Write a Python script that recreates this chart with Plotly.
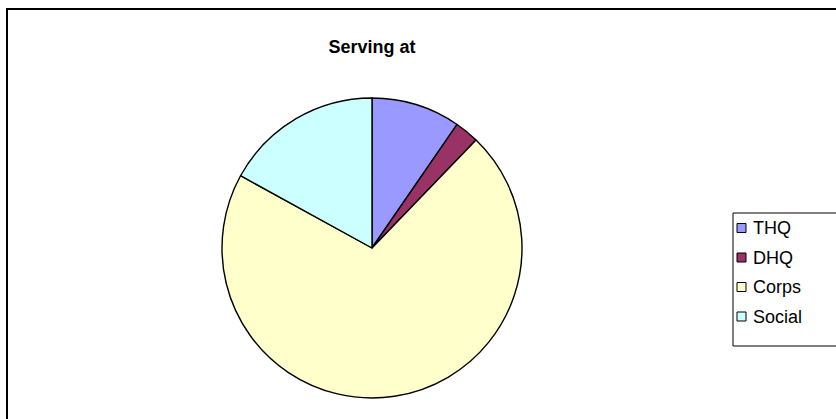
import plotly.graph_objects as go

labels = ["THQ", "DHQ", "Corps", "Social"]
values = [9.6, 2.6, 70.8, 17.0]
colors = ["#9999FF", "#993366", "#FFFFCC", "#CCFFFF"]

W, H = 836, 419

def px(x):
    return x / W

def py(y):
    return 1 - y / H

fig = go.Figure()
fig.add_trace(go.Pie(
    labels=labels,
    values=values,
    sort=False,
    direction="clockwise",
    rotation=0,
    textinfo="none",
    showlegend=False,
    marker=dict(colors=colors, line=dict(color="black", width=1.4)),
    domain=dict(x=[px(372 - 150), px(372 + 150)], y=[py(248 + 150), py(248 - 150)]),
))

shapes = [dict(type="rect", xref="paper", yref="paper",
               x0=px(7), y0=-0.2, x1=1.2, y1=py(9),
               line=dict(color="black", width=2))]
annotations = []

# legend box
lx0, ly0, ly1 = 733, 213, 346
shapes.append(dict(type="rect", xref="paper", yref="paper",
                   x0=px(lx0), y0=py(ly1), x1=1.1, y1=py(ly0),
                   line=dict(color="black", width=1), fillcolor="white"))
step = 29.5
for i, (lab, col) in enumerate(zip(labels, colors)):
    cy = 228 + i * step
    shapes.append(dict(type="rect", xref="paper", yref="paper",
                       x0=px(737), x1=px(746), y0=py(cy + 4.5), y1=py(cy - 4.5),
                       line=dict(color="black", width=1), fillcolor=col))
    annotations.append(dict(text=lab, xref="paper", yref="paper",
                            x=px(751), y=py(cy), xanchor="left", yanchor="middle",
                            showarrow=False, font=dict(size=18, color="black")))

fig.update_layout(
    width=W, height=H,
    margin=dict(l=0, r=0, t=0, b=0),
    paper_bgcolor="white",
    font=dict(family="Liberation Sans, Arial, sans-serif", color="black"),
    title=dict(text="<b>Serving at</b>", x=px(372), xanchor="center",
               y=py(47), yanchor="middle", font=dict(size=18, color="black")),
    shapes=shapes,
    annotations=annotations,
)

fig.write_html("out.html")
